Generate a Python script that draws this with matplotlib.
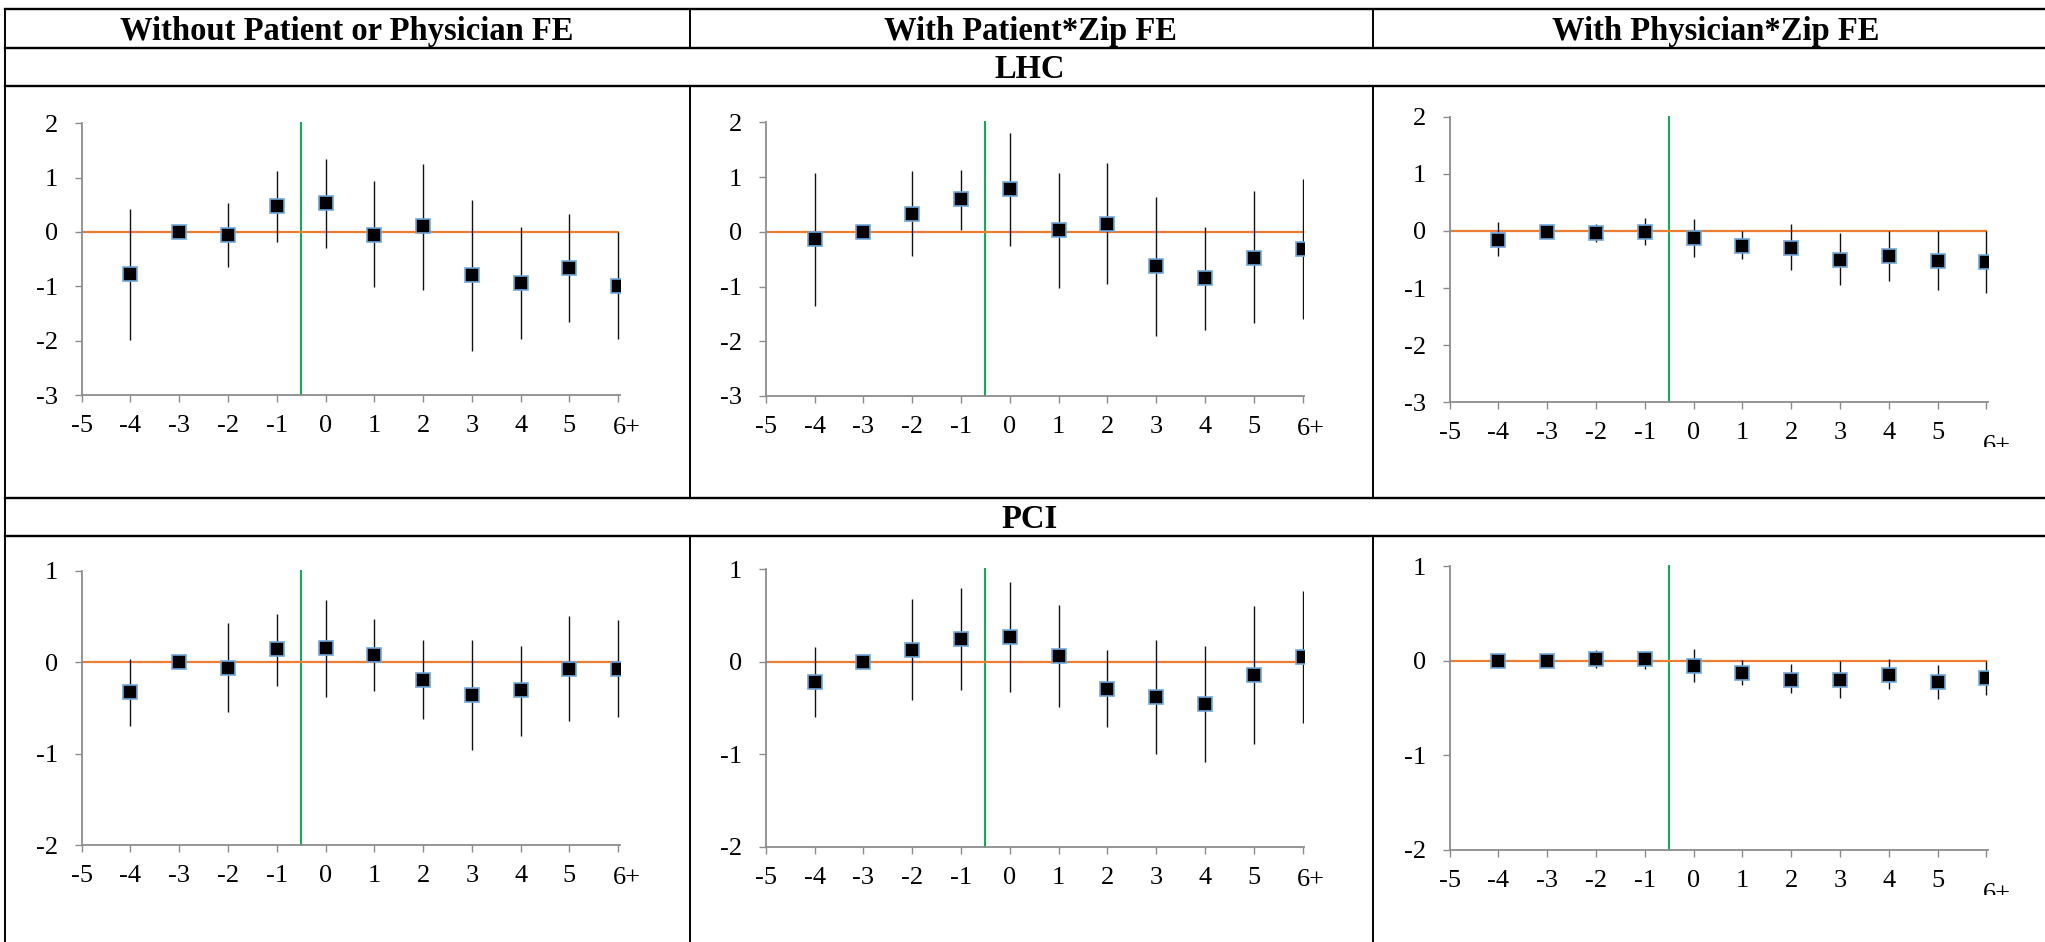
import matplotlib
matplotlib.use("Agg")
import matplotlib.pyplot as plt
from matplotlib.lines import Line2D
from matplotlib.transforms import Bbox, TransformedBbox

plt.rcParams["font.family"] = ["Liberation Serif", "DejaVu Serif"]
plt.rcParams["axes.unicode_minus"] = False

W, H = 2045, 942

columns = ["Without Patient or Physician FE", "With Patient*Zip FE", "With Physician*Zip FE"]
procedures = ["LHC", "PCI"]
event_time = [-4, -3, -2, -1, 0, 1, 2, 3, 4, 5, 6]
tick_pos = [-5, -4, -3, -2, -1, 0, 1, 2, 3, 4, 5, 6]
tick_labels = ["-5", "-4", "-3", "-2", "-1", "0", "1", "2", "3", "4", "5", "6+"]

# LHC estimates with 95% CI bounds
lhc_none = [-0.78, 0.00, -0.05, 0.48, 0.53, -0.05, 0.11, -0.80, -0.93, -0.67, -0.99]
lhc_none_hi = [0.42, 0.00, 0.53, 1.13, 1.35, 0.93, 1.26, 0.59, 0.09, 0.33, 0.00]
lhc_none_lo = [-1.99, 0.00, -0.64, -0.18, -0.30, -1.02, -1.07, -2.19, -1.97, -1.66, -1.97]

lhc_pat = [-0.14, 0.00, 0.33, 0.59, 0.78, 0.03, 0.15, -0.63, -0.84, -0.47, -0.32]
lhc_pat_hi = [1.07, 0.00, 1.11, 1.13, 1.81, 1.07, 1.26, 0.64, 0.08, 0.74, 0.96]
lhc_pat_lo = [-1.36, 0.00, -0.44, 0.04, -0.26, -1.02, -0.96, -1.90, -1.80, -1.67, -1.60]

lhc_phys = [-0.15, -0.01, -0.04, -0.01, -0.13, -0.26, -0.29, -0.51, -0.44, -0.52, -0.55]
lhc_phys_hi = [0.15, 0.00, 0.12, 0.23, 0.21, 0.00, 0.13, -0.04, 0.00, 0.00, 0.00]
lhc_phys_lo = [-0.43, -0.01, -0.20, -0.24, -0.46, -0.49, -0.69, -0.94, -0.87, -1.03, -1.08]

# PCI estimates with 95% CI bounds
pci_none = [-0.33, 0.00, -0.06, 0.14, 0.15, 0.08, -0.19, -0.36, -0.31, -0.07, -0.07]
pci_none_hi = [0.03, 0.00, 0.43, 0.53, 0.68, 0.47, 0.24, 0.24, 0.18, 0.50, 0.46]
pci_none_lo = [-0.70, 0.00, -0.55, -0.26, -0.38, -0.32, -0.62, -0.96, -0.81, -0.64, -0.60]

pci_pat = [-0.22, 0.00, 0.13, 0.245, 0.26, 0.065, -0.30, -0.38, -0.46, -0.14, 0.054]
pci_pat_hi = [0.16, 0.00, 0.68, 0.80, 0.86, 0.61, 0.12, 0.23, 0.17, 0.60, 0.76]
pci_pat_lo = [-0.60, 0.00, -0.42, -0.31, -0.33, -0.49, -0.71, -1.00, -1.09, -0.89, -0.66]

pci_phys = [0.00, -0.005, 0.015, 0.015, -0.055, -0.13, -0.20, -0.20, -0.15, -0.23, -0.18]
pci_phys_hi = [0.085, 0.00, 0.11, 0.10, 0.125, 0.01, -0.035, 0.00, 0.015, -0.05, 0.00]
pci_phys_lo = [-0.08, -0.01, -0.08, -0.085, -0.23, -0.26, -0.34, -0.39, -0.30, -0.40, -0.36]

panels = [
    (lhc_none, lhc_none_lo, lhc_none_hi), (lhc_pat, lhc_pat_lo, lhc_pat_hi),
    (lhc_phys, lhc_phys_lo, lhc_phys_hi),
    (pci_none, pci_none_lo, pci_none_hi), (pci_pat, pci_pat_lo, pci_pat_hi),
    (pci_phys, pci_phys_lo, pci_phys_hi),
]
ylims = [(-3, 2), (-3, 2), (-3, 2), (-2, 1), (-2, 1), (-2, 1)]
# axes boxes in pixels: left, right, top, bottom
boxes = [
    (81.7, 619.6, 123.3, 395.0), (765.7, 1304.0, 122.3, 396.0), (1449.6, 1987.8, 116.7, 402.3),
    (81.7, 619.6, 570.7, 845.0), (765.7, 1304.0, 569.0, 846.7), (1449.6, 1987.8, 566.0, 850.0),
]

AXIS_GRAY = "#8c8c8c"
ORANGE = "#ED7D31"
GREEN = "#00B050"
EDGE_BLUE = "#6FA8DC"
LABEL_SIZE = 19


def fx(px):
    return px / W


def fy(py):
    return 1 - py / H


fig = plt.figure(figsize=(W / 100, H / 100), dpi=100)


# table rules
def hline(y, x0=4.5, x1=W):
    fig.add_artist(Line2D([fx(x0), fx(x1)], [fy(y), fy(y)], color="black", lw=1.7))


def vline(x, y0, y1):
    fig.add_artist(Line2D([fx(x), fx(x)], [fy(y0), fy(y1)], color="black", lw=1.4))


for y in [9, 48, 86, 498, 536]:
    hline(y)
vline(4.5, 9, H)
for x in [690, 1373]:
    vline(x, 9, 48)
    vline(x, 86, 498)
    vline(x, 536, H)

col_centers = [347, 1031, 1716]
for cx, name in zip(col_centers, columns):
    fig.text(fx(cx), fy(40), name, ha="center", va="baseline",
             fontsize=23.5, fontweight="bold")
fig.text(fx(1030), fy(78), procedures[0], ha="center", va="baseline",
         fontsize=23.5, fontweight="bold")
fig.text(fx(1030), fy(528), procedures[1], ha="center", va="baseline",
         fontsize=23.5, fontweight="bold")

for i, ((est, lo, hi), ylim, (l, r, t, b)) in enumerate(zip(panels, ylims, boxes)):
    ax = fig.add_axes([fx(l), fy(b), (r - l) / W, (b - t) / H])
    ax.set_xlim(-5, 6.03)
    ax.set_ylim(*ylim)
    for side in ["top", "right"]:
        ax.spines[side].set_visible(False)
    for side in ["left", "bottom"]:
        ax.spines[side].set_color(AXIS_GRAY)
        ax.spines[side].set_linewidth(1.3)
    ax.set_yticks(range(ylim[0], ylim[1] + 1))
    ax.set_xticks(tick_pos)
    ax.set_xticklabels(tick_labels[:-1] + [""])
    ax.tick_params(axis="both", colors=AXIS_GRAY, labelcolor="black",
                   labelsize=LABEL_SIZE, width=1.0, length=5)
    ax.tick_params(axis="y", pad=12)
    ax.tick_params(axis="x", pad=9.5)

    # event line and zero line
    ax.plot([-0.5, -0.5], ylim, color=GREEN, lw=1.4, clip_on=False, zorder=2)
    ax.plot([-5, 6], [0, 0], color=ORANGE, lw=1.6, zorder=2)

    yerr = [[e - a for e, a in zip(est, lo)], [h - e for e, h in zip(est, hi)]]
    ax.errorbar(event_time, est, yerr=yerr, fmt="none", ecolor="#111111",
                elinewidth=1.0, capsize=0, zorder=3)
    ax.plot(event_time, est, ls="none", marker="s", ms=9.8, mfc="black",
            mec=EDGE_BLUE, mew=1.2, zorder=4)

    # last category label is set a little right of its tick
    if i % 3 == 2:
        # in the right column it drops lower and is cut off
        lab = fig.text(fx(r + 9), fy(b + 50), tick_labels[-1], ha="center",
                       va="baseline", fontsize=LABEL_SIZE)
        clip = Bbox.from_extents(fx(r - 40), fy(b + 45), fx(r + 60), fy(b + 20))
        lab.set_clip_box(TransformedBbox(clip, fig.transFigure))
        lab.set_clip_on(True)
    else:
        fig.text(fx(r + 7), fy(b + 39), tick_labels[-1], ha="center",
                 va="baseline", fontsize=LABEL_SIZE)

fig.savefig("out.png", dpi=100)
